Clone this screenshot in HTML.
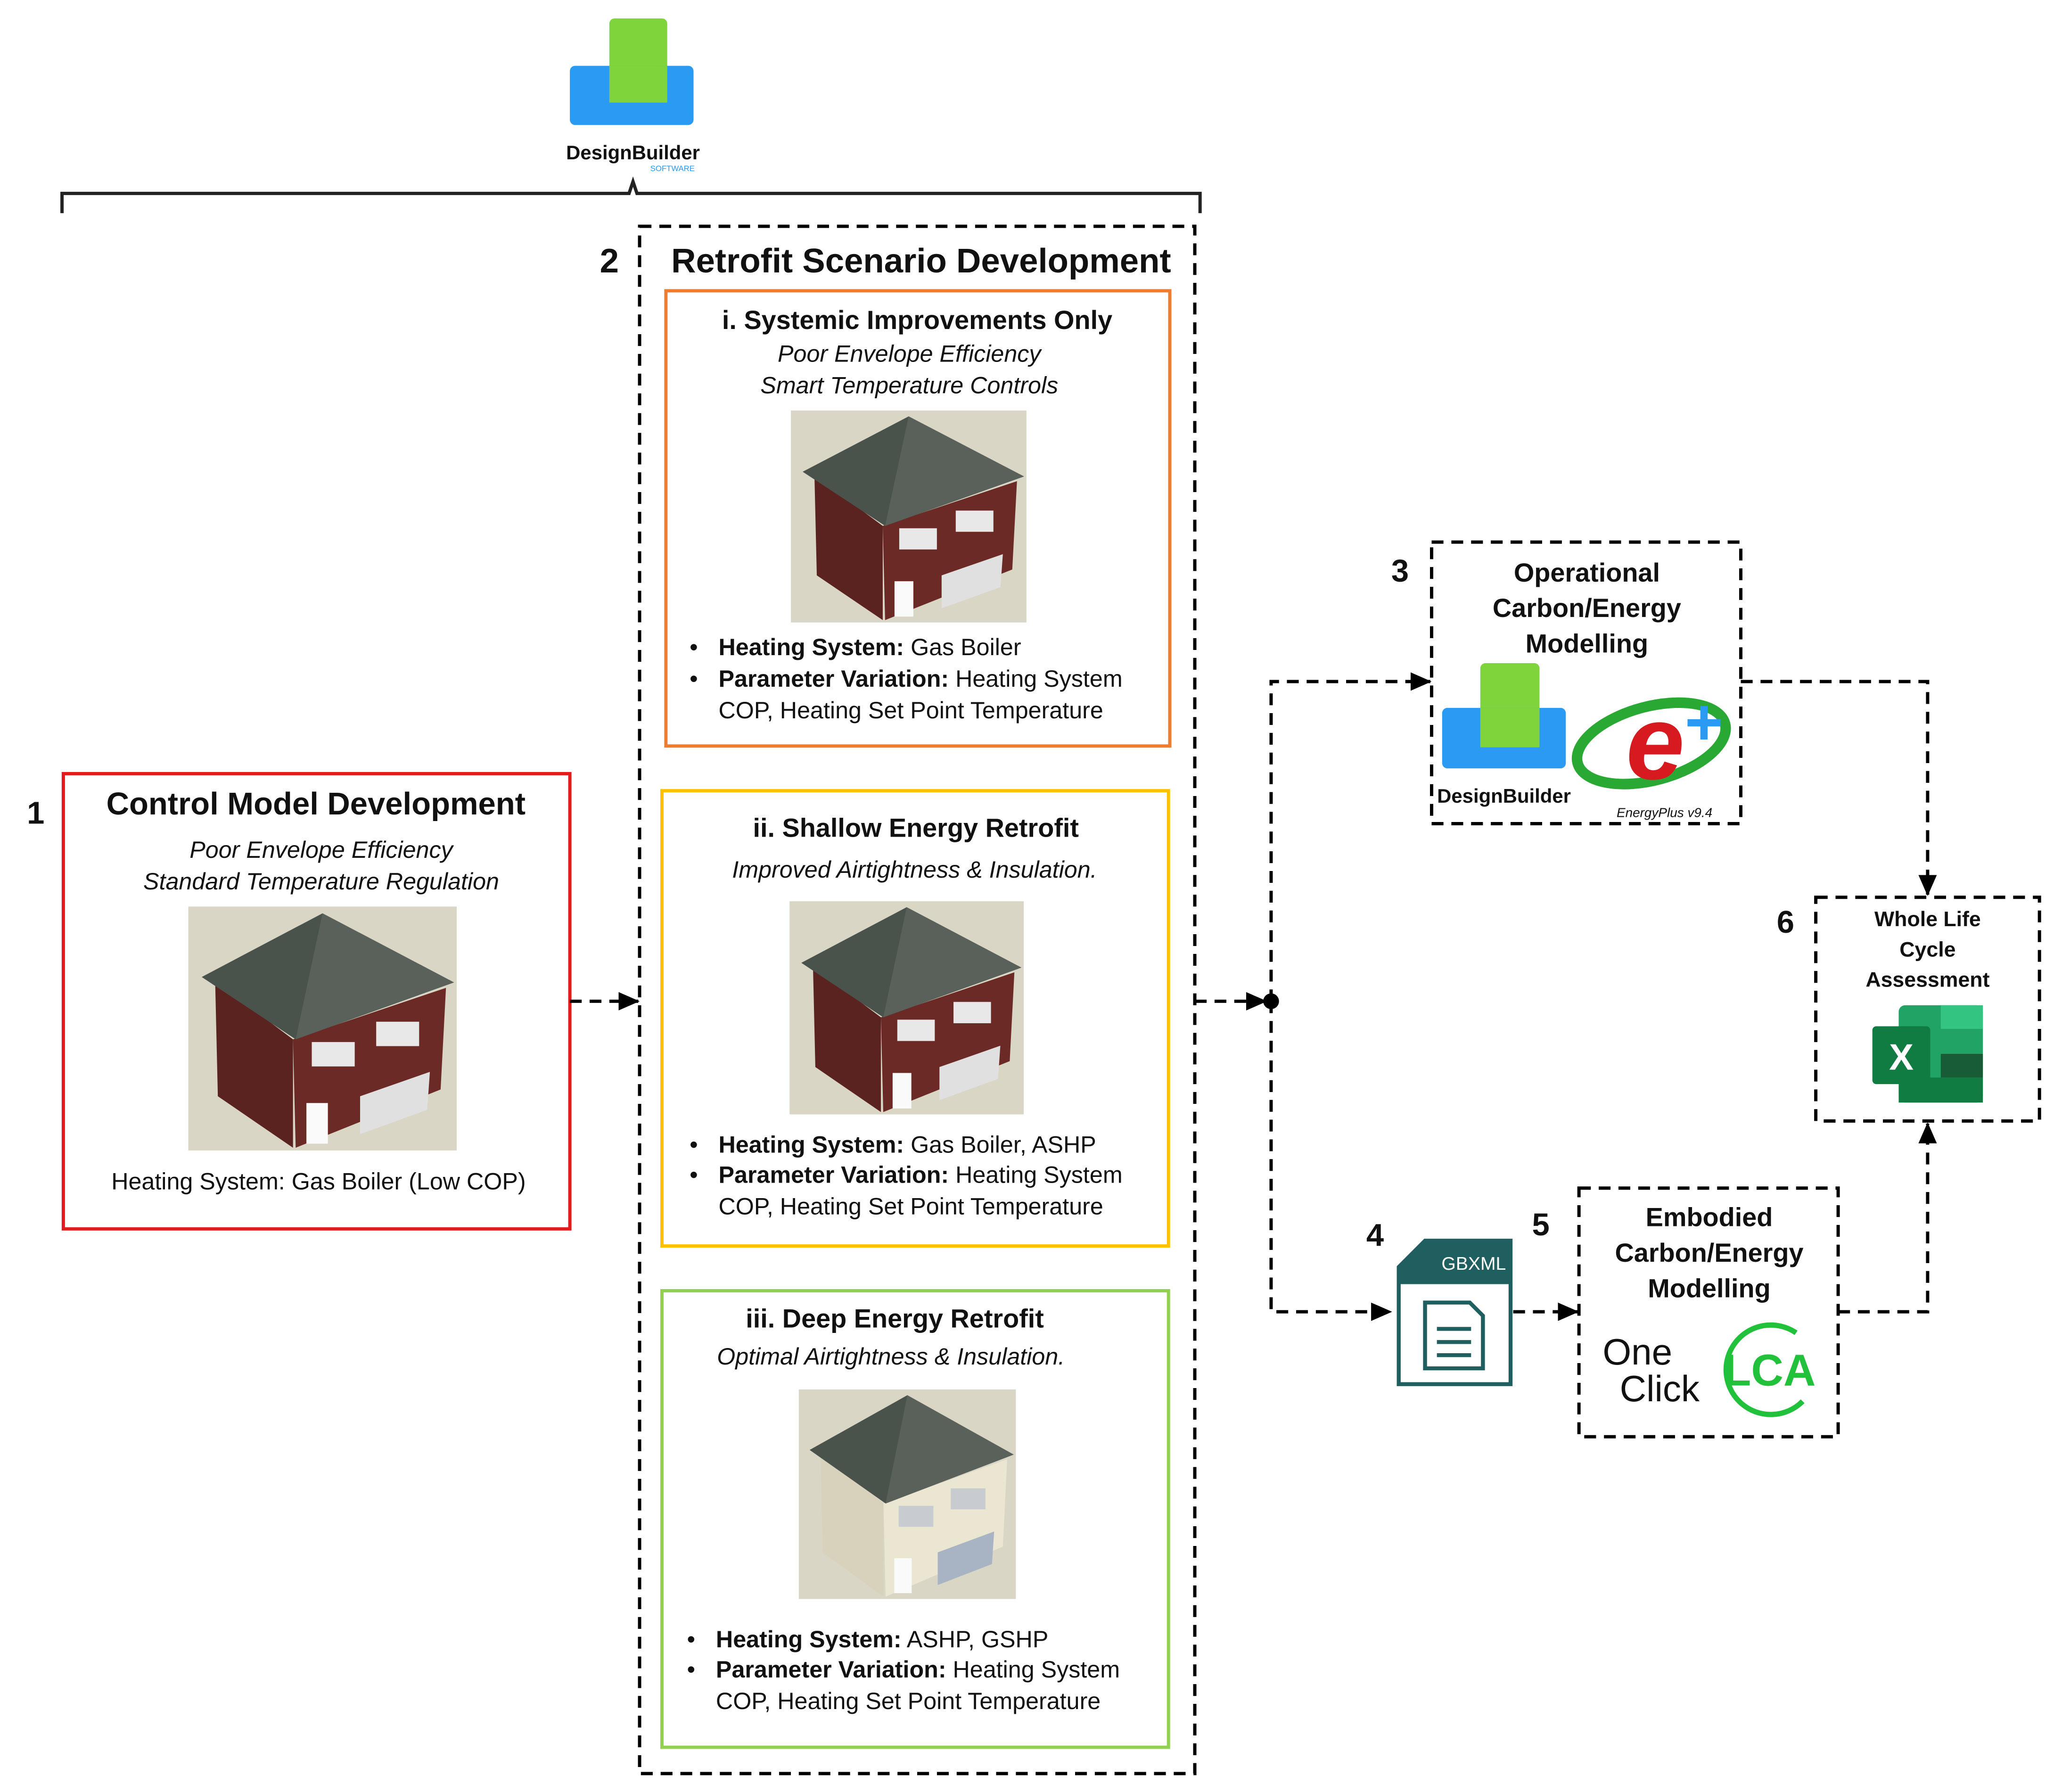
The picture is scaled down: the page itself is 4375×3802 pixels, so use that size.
<!DOCTYPE html>
<html><head><meta charset="utf-8"><style>
html,body{margin:0;padding:0;background:#fff}
svg{display:block}
text{font-family:"Liberation Sans",sans-serif;fill:#111}
.b{font-weight:bold}.i{font-style:italic}
</style></head><body>
<svg width="4375" height="3802" viewBox="0 0 1567 1362" xmlns="http://www.w3.org/2000/svg">
<defs>
<marker id="ar" markerWidth="16" markerHeight="14" refX="15" refY="7" orient="auto" markerUnits="userSpaceOnUse"><path d="M0,0 L16,7 L0,14 z" fill="#000"/></marker>
<g id="house">
<rect x="0" y="0" width="200" height="180" fill="#d9d6c6"/>
<polygon points="20,55 22,140 78,178 78,98" fill="#5a2320"/>
<polygon points="78,98 192,60 188,135 80,178" fill="#6b2a26"/>
<polygon points="10,52 100,5 198,56 80,98" fill="#4a524c"/>
<polygon points="100,5 80,98 198,56" fill="#59615a"/>
<rect x="92" y="100" width="32" height="18" fill="#e8e8e8"/>
<rect x="140" y="85" width="32" height="18" fill="#e8e8e8"/>
<polygon points="128,140 180,122 178,150 128,168" fill="#e0e0e0"/>
<rect x="88" y="145" width="16" height="30" fill="#fafafa"/>
</g>
<g id="houseW">
<rect x="0" y="0" width="200" height="180" fill="#d9d6c6"/>
<polygon points="20,55 22,140 78,178 78,98" fill="#d8d2bc"/>
<polygon points="78,98 192,60 188,135 80,178" fill="#ebe6d2"/>
<polygon points="10,52 100,5 198,56 80,98" fill="#4a524c"/>
<polygon points="100,5 80,98 198,56" fill="#59615a"/>
<rect x="92" y="100" width="32" height="18" fill="#c8ccd0"/>
<rect x="140" y="85" width="32" height="18" fill="#c8ccd0"/>
<polygon points="128,140 180,122 178,150 128,168" fill="#a8b4c4"/>
<rect x="88" y="145" width="16" height="30" fill="#fafafa"/>
</g>
</defs>

<rect x="463" y="14" width="44" height="64" rx="4" fill="#7ed43a"/>
<rect x="433" y="50" width="94" height="45" rx="4" fill="#2b9af3"/>
<rect x="463" y="50" width="44" height="28" fill="#7ed43a"/>
<text x="481" y="121" text-anchor="middle" class="b" font-size="15" fill="#333">DesignBuilder</text>
<text x="511" y="130" text-anchor="middle" font-size="6" style="fill:#2b9af3">SOFTWARE</text>

<path d="M47,162 L47,147 L478,147 L481,138 L484,147 L912,147 L912,162" fill="none" stroke="#222" stroke-width="2.5"/>

<text x="27" y="626" text-anchor="middle" class="b" font-size="24">1</text>
<rect x="48" y="588" width="385" height="346" fill="none" stroke="#e21b1b" stroke-width="2.5"/>
<text x="240" y="619" text-anchor="middle" class="b" font-size="24">Control Model Development</text>
<text x="244" y="652" text-anchor="middle" class="i" font-size="18">Poor Envelope Efficiency</text>
<text x="244" y="676" text-anchor="middle" class="i" font-size="18">Standard Temperature Regulation</text>
<use href="#house" transform="translate(143,689) scale(1.02,1.03)"/>
<text x="242" y="904" text-anchor="middle" font-size="18">Heating System: Gas Boiler (Low COP)</text>

<text x="463" y="207" text-anchor="middle" class="b" font-size="26">2</text>
<rect x="486" y="172" width="422" height="1176" fill="none" stroke="#000" stroke-width="2.5" stroke-dasharray="9,6"/>
<text x="700" y="207" text-anchor="middle" class="b" font-size="26">Retrofit Scenario Development</text>

<rect x="506" y="221" width="383" height="346" fill="none" stroke="#ed7d31" stroke-width="2.5"/>
<text x="697" y="250" text-anchor="middle" class="b" font-size="20">i. Systemic Improvements Only</text>
<text x="691" y="275" text-anchor="middle" class="i" font-size="18">Poor Envelope Efficiency</text>
<text x="691" y="299" text-anchor="middle" class="i" font-size="18">Smart Temperature Controls</text>
<use href="#house" transform="translate(601,312) scale(0.895,0.895)"/>
<text x="524" y="498" font-size="18">•</text>
<text x="546" y="498" font-size="18"><tspan class="b">Heating System:</tspan> Gas Boiler</text>
<text x="524" y="522" font-size="18">•</text>
<text x="546" y="522" font-size="18"><tspan class="b">Parameter Variation:</tspan> Heating System</text>
<text x="546" y="546" font-size="18">COP, Heating Set Point Temperature</text>

<rect x="503" y="601" width="385" height="346" fill="none" stroke="#ffc000" stroke-width="2.5"/>
<text x="696" y="636" text-anchor="middle" class="b" font-size="20">ii. Shallow Energy Retrofit</text>
<text x="695" y="667" text-anchor="middle" class="i" font-size="18">Improved Airtightness &amp; Insulation.</text>
<use href="#house" transform="translate(600,685) scale(0.89,0.9)"/>
<text x="524" y="876" font-size="18">•</text>
<text x="546" y="876" font-size="18"><tspan class="b">Heating System:</tspan> Gas Boiler, ASHP</text>
<text x="524" y="899" font-size="18">•</text>
<text x="546" y="899" font-size="18"><tspan class="b">Parameter Variation:</tspan> Heating System</text>
<text x="546" y="923" font-size="18">COP, Heating Set Point Temperature</text>

<rect x="503" y="981" width="385" height="347" fill="none" stroke="#92d050" stroke-width="2.5"/>
<text x="680" y="1009" text-anchor="middle" class="b" font-size="20">iii.  Deep Energy Retrofit</text>
<text x="677" y="1037" text-anchor="middle" class="i" font-size="18">Optimal Airtightness &amp; Insulation.</text>
<use href="#houseW" transform="translate(607,1056) scale(0.825,0.885)"/>
<text x="522" y="1252" font-size="18">•</text>
<text x="544" y="1252" font-size="18"><tspan class="b">Heating System:</tspan> ASHP, GSHP</text>
<text x="522" y="1275" font-size="18">•</text>
<text x="544" y="1275" font-size="18"><tspan class="b">Parameter Variation:</tspan> Heating System</text>
<text x="544" y="1299" font-size="18">COP, Heating Set Point Temperature</text>

<g fill="none" stroke="#000" stroke-width="2.5" stroke-dasharray="9,6">
<path d="M433,761 L485,761" marker-end="url(#ar)"/>
<path d="M908,761 L962,761" marker-end="url(#ar)"/>
<path d="M966,761 L966,518 L1087,518" marker-end="url(#ar)"/>
<path d="M966,761 L966,997 L1057,997" marker-end="url(#ar)"/>
<path d="M1323,518 L1465,518 L1465,680" marker-end="url(#ar)"/>
<path d="M1150,997 L1199,997" marker-end="url(#ar)"/>
<path d="M1397,997 L1465,997 L1465,854" marker-end="url(#ar)"/>
</g>
<circle cx="966" cy="761" r="6" fill="#000"/>

<text x="1064" y="442" text-anchor="middle" class="b" font-size="24">3</text>
<rect x="1088" y="412" width="235" height="214" fill="none" stroke="#000" stroke-width="2.5" stroke-dasharray="9,6"/>
<text x="1206" y="442" text-anchor="middle" class="b" font-size="20">Operational</text>
<text x="1206" y="469" text-anchor="middle" class="b" font-size="20">Carbon/Energy</text>
<text x="1206" y="496" text-anchor="middle" class="b" font-size="20">Modelling</text>
<rect x="1125" y="504" width="45" height="65" rx="4" fill="#7ed43a"/>
<rect x="1096" y="538" width="94" height="46" rx="4" fill="#2b9af3"/>
<rect x="1125" y="538" width="45" height="30" fill="#7ed43a"/>
<text x="1143" y="610" text-anchor="middle" class="b" font-size="15" fill="#333">DesignBuilder</text>
<ellipse cx="1255" cy="565" rx="58" ry="28" fill="none" stroke="#2aa834" stroke-width="8" transform="rotate(-15 1255 565)"/>
<text x="1258" y="592" text-anchor="middle" font-size="80" class="b i" style="fill:#d71920">e</text>
<text x="1295" y="566" text-anchor="middle" font-size="50" class="b" style="fill:#2b9af3">+</text>
<text x="1265" y="621" text-anchor="middle" class="i" font-size="10" fill="#444">EnergyPlus v9.4</text>

<text x="1357" y="709" text-anchor="middle" class="b" font-size="24">6</text>
<rect x="1380" y="682" width="170" height="170" fill="none" stroke="#000" stroke-width="2.5" stroke-dasharray="9,6"/>
<text x="1465" y="704" text-anchor="middle" class="b" font-size="16">Whole Life</text>
<text x="1465" y="727" text-anchor="middle" class="b" font-size="16">Cycle</text>
<text x="1465" y="750" text-anchor="middle" class="b" font-size="16">Assessment</text>
<rect x="1443" y="764" width="64" height="74" rx="5" fill="#21a366"/>
<rect x="1475" y="764" width="32" height="18" fill="#33c481"/>
<rect x="1475" y="801" width="32" height="18" fill="#185c37"/>
<rect x="1443" y="819" width="64" height="19" fill="#107c41"/>
<rect x="1423" y="780" width="44" height="44" rx="3" fill="#107c41"/>
<text x="1445" y="813" text-anchor="middle" class="b" font-size="28" style="fill:#fff">X</text>

<text x="1045" y="947" text-anchor="middle" class="b" font-size="24">4</text>
<path d="M1083,943 L1148,943 L1148,1052 L1063,1052 L1063,963 Z" fill="#fff" stroke="#1f5f5f" stroke-width="3"/>
<path d="M1083,943 L1148,943 L1148,976 L1063,976 L1063,963 Z" fill="#1f5f5f"/>
<text x="1120" y="965" text-anchor="middle" font-size="14" style="fill:#fff">GBXML</text>
<path d="M1083,990 L1117,990 L1127,1000 L1127,1040 L1083,1040 Z" fill="none" stroke="#1f5f5f" stroke-width="3"/>
<path d="M1092,1010 H1118 M1092,1020 H1118 M1092,1030 H1118" stroke="#1f5f5f" stroke-width="3"/>

<text x="1171" y="939" text-anchor="middle" class="b" font-size="24">5</text>
<rect x="1200" y="903" width="197" height="189" fill="none" stroke="#000" stroke-width="2.5" stroke-dasharray="9,6"/>
<text x="1299" y="932" text-anchor="middle" class="b" font-size="20">Embodied</text>
<text x="1299" y="959" text-anchor="middle" class="b" font-size="20">Carbon/Energy</text>
<text x="1299" y="986" text-anchor="middle" class="b" font-size="20">Modelling</text>
<text x="1218" y="1037" font-size="28" fill="#222">One</text>
<text x="1231" y="1065" font-size="28" fill="#222">Click</text>
<path d="M1365,1013 A34,34 0 1 0 1370,1065" fill="none" stroke="#21c13b" stroke-width="4"/>
<text x="1345" y="1053" text-anchor="middle" class="b" font-size="34" style="fill:#21c13b">LCA</text>
</svg>
</body></html>
